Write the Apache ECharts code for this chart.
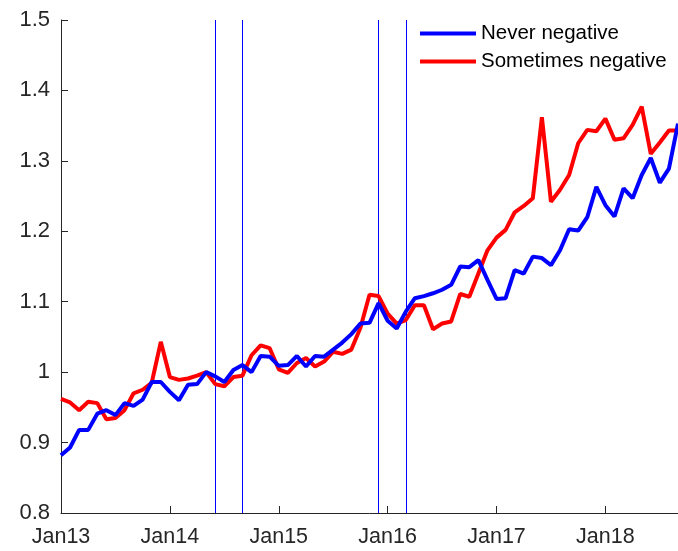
<!DOCTYPE html>
<html>
<head>
<meta charset="utf-8">
<script src="https://cdn.jsdelivr.net/npm/echarts@6/dist/echarts.min.js"></script>
<style>
 html, body { margin: 0; padding: 0; background: #fff; }
 #main { width: 678px; height: 551px; }
</style>
</head>
<body>
<div id="main"></div>
<script>
// month labels, Jan13 .. Sep18
var monthNames = ['Jan','Feb','Mar','Apr','May','Jun','Jul','Aug','Sep','Oct','Nov','Dec'];
var years = ['13','14','15','16','17','18'];
var months = [];
years.forEach(function (y) {
  monthNames.forEach(function (m) { months.push(m + y); });
});
months = months.slice(0, 69);

var neverNegative = [
  0.882, 0.893, 0.918, 0.918, 0.941, 0.946, 0.939, 0.956, 0.952, 0.961, 0.986, 0.986,
  0.972, 0.960, 0.982, 0.983, 1.000, 0.994, 0.986, 1.003, 1.010, 1.000, 1.023, 1.022,
  1.009, 1.010, 1.023, 1.008, 1.023, 1.022, 1.032, 1.042, 1.054, 1.069, 1.070, 1.098,
  1.073, 1.062, 1.086, 1.105, 1.108, 1.112, 1.117, 1.124, 1.150, 1.149, 1.159, 1.131,
  1.104, 1.105, 1.145, 1.140, 1.164, 1.162, 1.152, 1.173, 1.203, 1.201, 1.220, 1.263,
  1.237, 1.221, 1.261, 1.247, 1.280, 1.304, 1.269, 1.289, 1.353
];

var sometimesNegative = [
  0.962, 0.957, 0.946, 0.958, 0.956, 0.933, 0.935, 0.946, 0.970, 0.975, 0.985, 1.043,
  0.993, 0.989, 0.991, 0.995, 1.000, 0.983, 0.980, 0.993, 0.995, 1.024, 1.038, 1.034,
  1.004, 0.999, 1.013, 1.020, 1.008, 1.015, 1.029, 1.026, 1.032, 1.063, 1.110, 1.108,
  1.083, 1.069, 1.074, 1.095, 1.095, 1.061, 1.069, 1.072, 1.111, 1.107, 1.140, 1.173,
  1.191, 1.202, 1.227, 1.236, 1.247, 1.362, 1.242, 1.259, 1.280, 1.325, 1.344, 1.342,
  1.360, 1.330, 1.332, 1.351, 1.377, 1.310, 1.326, 1.343, 1.343
];

// vertical marker months
var markerMonths = ['Jun14', 'Sep14', 'Dec15', 'Mar16'];

var chart = echarts.init(document.getElementById('main'));
var fontFam = 'Liberation Sans, Arial, sans-serif';

var option = {
  animation: false,
  backgroundColor: '#fff',
  grid: { left: 61, right: 0, top: 20, bottom: 38 },
  legend: {
    left: 415,
    top: 18,
    orient: 'vertical',
    itemWidth: 56,
    itemHeight: 4,
    itemGap: 7,
    icon: 'rect',
    textStyle: { fontFamily: fontFam, fontSize: 20.5, color: '#000' },
    data: ['Never negative', 'Sometimes negative']
  },
  xAxis: {
    type: 'category',
    data: months,
    boundaryGap: false,
    axisLine: { lineStyle: { color: '#262626', width: 1 } },
    axisTick: { inside: true, length: 7, interval: 11, lineStyle: { color: '#262626' } },
    axisLabel: { interval: 11, margin: 13, fontFamily: fontFam, fontSize: 21.5, color: '#262626' },
    splitLine: { show: false }
  },
  yAxis: {
    type: 'value',
    min: 0.8,
    max: 1.5,
    interval: 0.1,
    axisLine: { show: true, lineStyle: { color: '#262626', width: 1 } },
    axisTick: { show: true, inside: true, length: 7, lineStyle: { color: '#262626' } },
    axisLabel: { margin: 11, fontFamily: fontFam, fontSize: 22, color: '#262626' },
    splitLine: { show: false }
  },
  series: [
    {
      name: 'Never negative',
      type: 'line',
      data: neverNegative,
      z: 3,
      symbol: 'none',
      color: '#0000ff',
      lineStyle: { width: 4, color: '#0000ff' },
      markLine: {
        silent: true,
        symbol: ['none', 'none'],
        z: 1,
        label: { show: false },
        lineStyle: { color: '#0000ff', width: 1, type: 'solid', opacity: 1 },
        data: markerMonths.map(function (m) {
          return { xAxis: m };
        })
      }
    },
    {
      name: 'Sometimes negative',
      type: 'line',
      data: sometimesNegative,
      z: 2,
      symbol: 'none',
      color: '#ff0000',
      lineStyle: { width: 4, color: '#ff0000' }
    }
  ]
};

chart.setOption(option);
</script>
</body>
</html>
